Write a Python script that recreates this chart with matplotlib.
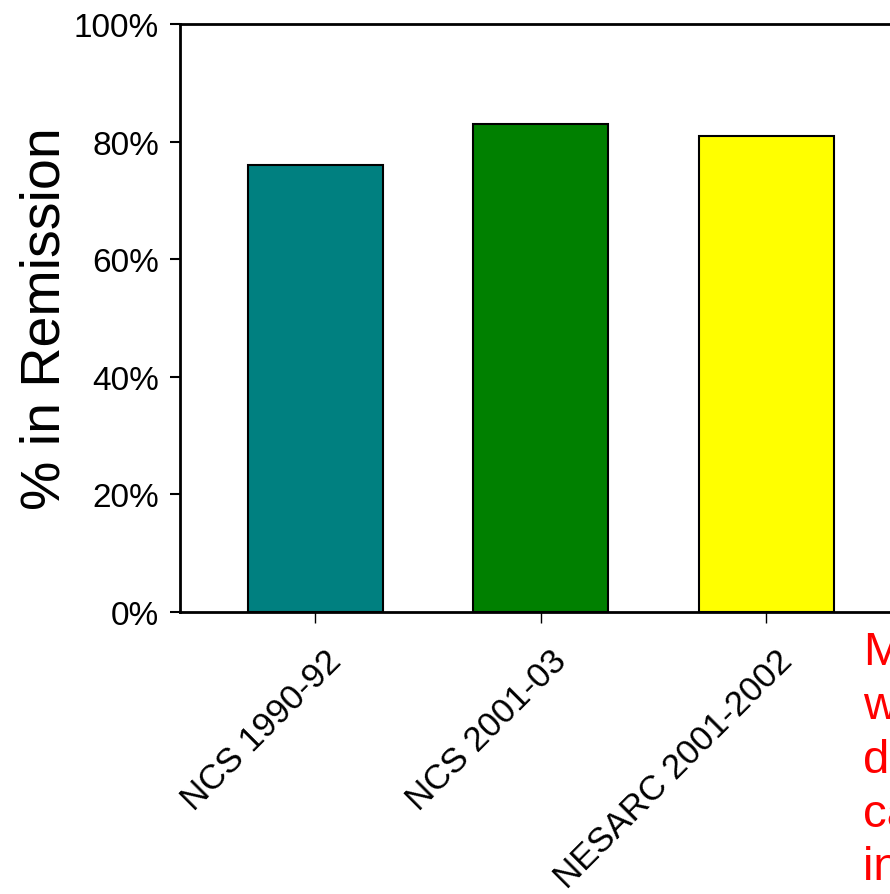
import matplotlib
matplotlib.use("Agg")
import matplotlib.pyplot as plt
import matplotlib.transforms as mtransforms

plt.rcParams['font.family'] = ['Liberation Sans', 'DejaVu Sans']

# data
surveys = ['NCS 1990-92', 'NCS 2001-03', 'NESARC 2001-2002']
remission = [76, 83, 81]
bar_colors = ['#008080', '#008000', '#ffff00']
yticks = [0, 20, 40, 60, 80, 100]
note = "Most\nwith\ndependence\ncan recover\nin time"

fig = plt.figure(figsize=(8.9, 8.95), dpi=100)
W, H = 890, 895
# axes run off the right edge of the canvas, like the reference crop
ax = fig.add_axes([180 / W, (H - 613) / H, 947 / W, 588 / H])

x = list(range(len(surveys)))
ax.bar(x, remission, width=0.6, color=bar_colors, edgecolor='black', linewidth=1.5)

ax.set_xlim(-0.6, 3.6)
ax.set_ylim(0, 100)
ax.set_yticks(yticks)
ax.set_yticklabels([f"{v}%" for v in yticks], fontsize=24)
ax.set_xticks(x)
ax.set_xticklabels([])

# rotated category labels, end of text sits just right of / below the tick
offset = mtransforms.ScaledTranslation(0.21, -0.43, fig.dpi_scale_trans)
for xi, name in zip(x, surveys):
    ax.text(xi, 0, name, fontsize=25, rotation=45, ha='right', va='center',
            rotation_mode='anchor', transform=ax.get_xaxis_transform() + offset)

ax.tick_params(axis='y', direction='out', length=7, width=1.5, pad=8)
ax.tick_params(axis='x', direction='out', length=8, width=1.0)
for s in ax.spines.values():
    s.set_linewidth(2)

ax.set_ylabel('% in Remission', fontsize=40, labelpad=2)

fig.text(863 / W, (H - 631) / H, note, color='red', fontsize=34,
         ha='left', va='top', linespacing=1.29)

plt.savefig('out.png', dpi=100)
